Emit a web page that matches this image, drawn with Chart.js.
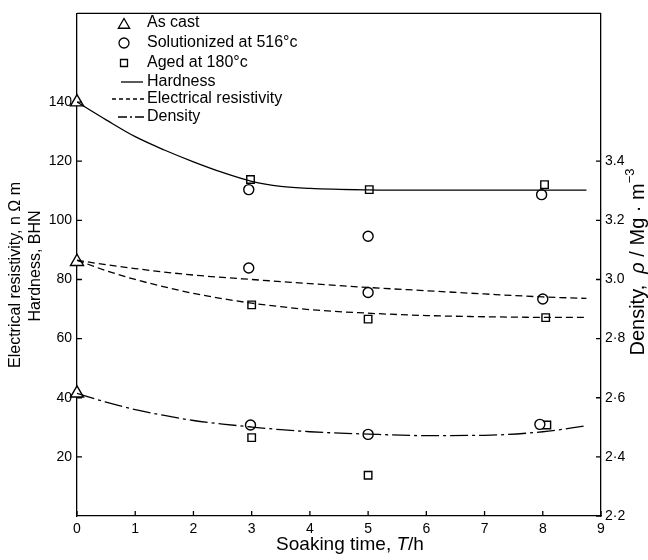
<!DOCTYPE html>
<html lang="en">
<head>
<meta charset="UTF-8">
<title>Soaking time chart</title>
<script src="https://cdn.jsdelivr.net/npm/chart.js"></script>
<style>
  body { margin: 0; background: #fff; }
</style>
</head>
<body>
<canvas id="chart" width="648" height="560"></canvas>
<script>
// values
const timeTicks = [0, 1, 2, 3, 4, 5, 6, 7, 8, 9];
const leftTicks = [20, 40, 60, 80, 100, 120, 140];
const densityTicks = [2.2, 2.4, 2.6, 2.8, 3.0, 3.2, 3.4];
const densityTickLabels = ['2·2', '2·4', '2·6', '2·8', '3.0', '3.2', '3.4'];

// fitted curves
const curveTime = [0, 0.5, 1, 1.5, 2, 2.5, 3, 3.5, 4, 5, 6, 7, 8, 8.75];
const hardnessCurve = [140, 134, 128.3, 123.8, 119.8, 116.2, 113.2, 111.5, 110.8, 110.3, 110.2, 110.2, 110.2, 110.2];
const resistivitySolCurve = [86.5, 85, 83.7, 82.5, 81.5, 80.7, 80, 79.3, 78.6, 77.3, 76.2, 75.1, 74.1, 73.6];
const resistivityAgedCurve = [86.5, 83, 80, 77.5, 75.3, 73.5, 72, 70.8, 69.8, 68.6, 67.8, 67.4, 67.2, 67.2];
const densityCurve = [2.615, 2.585, 2.56, 2.54, 2.523, 2.511, 2.501, 2.492, 2.485, 2.477, 2.472, 2.473, 2.485, 2.505];

// as cast (triangles)
const castTime = [0];
const castHardness = [140];
const castResistivity = [86];
const castDensity = [2.615];

// solutionized at 516 (circles)
const solHardnessTime = [2.95, 5, 7.98];
const solHardness = [110.4, 94.6, 108.7];
const solResistivityTime = [2.95, 5, 8];
const solResistivity = [83.9, 75.6, 73.4];
const solDensityTime = [2.98, 5, 7.95];
const solDensity = [2.508, 2.476, 2.51];

// aged at 180 (squares)
const agedHardnessTime = [2.98, 5.02, 8.03];
const agedHardness = [113.8, 110.4, 112.1];
const agedResistivityTime = [3, 5, 8.05];
const agedResistivity = [71.4, 66.6, 67.1];
const agedDensityTime = [3, 5, 8.07];
const agedDensity = [2.465, 2.338, 2.508];

const legendLabels = ['As cast', 'Solutionized at 516°c', 'Aged at 180°c', 'Hardness', 'Electrical resistivity', 'Density'];

const FONT = "'Liberation Sans', Arial, sans-serif";
const DASH = [7, 4];
const DASH_DOT = [18, 4, 3, 4];

function pts(xs, ys) {
    return xs.map((x, i) => ({ x: x, y: ys[i] }));
}

function curve(ys, axis, dash) {
    return {
        data: pts(curveTime, ys),
        yAxisID: axis,
        showLine: true,
        borderColor: '#000',
        borderWidth: 1.3,
        borderDash: dash,
        pointRadius: 0,
        cubicInterpolationMode: 'monotone',
        fill: false
    };
}

function markers(xs, ys, axis, style, r) {
    return {
        data: pts(xs, ys),
        yAxisID: axis,
        showLine: false,
        pointStyle: style,
        pointRadius: r,
        pointBorderColor: '#000',
        pointBackgroundColor: '#fff',
        pointBorderWidth: 1.4,
        clip: false
    };
}

function drawMarker(ctx, style, x, y, r) {
    ctx.beginPath();
    if (style === 'triangle') {
        ctx.moveTo(x, y - r);
        ctx.lineTo(x + r * 0.866, y + r / 2);
        ctx.lineTo(x - r * 0.866, y + r / 2);
        ctx.closePath();
    } else if (style === 'circle') {
        ctx.arc(x, y, r, 0, Math.PI * 2);
    } else {
        ctx.rect(x - r, y - r, 2 * r, 2 * r);
    }
    ctx.fillStyle = '#fff';
    ctx.fill();
    ctx.stroke();
}

// writes pieces of text one after the other, centred on cx
function drawPieces(ctx, pieces, cx, y) {
    let w = 0;
    pieces.forEach(p => { ctx.font = p.font; w += ctx.measureText(p.text).width; });
    let x = cx - w / 2;
    ctx.textAlign = 'left';
    pieces.forEach(p => {
        ctx.font = p.font;
        ctx.fillText(p.text, x, y + (p.dy || 0));
        x += ctx.measureText(p.text).width;
    });
}

// frame, inward ticks, axis titles and the legend
const overlay = {
    id: 'overlay',
    afterDraw(chart) {
        const { ctx, chartArea: a, scales } = chart;
        ctx.save();
        ctx.strokeStyle = '#000';
        ctx.lineWidth = 1.3;
        ctx.beginPath();
        ctx.moveTo(a.left, a.top);
        ctx.lineTo(a.right, a.top);
        scales.x.ticks.forEach(t => {
            const px = scales.x.getPixelForValue(t.value);
            ctx.moveTo(px, a.bottom);
            ctx.lineTo(px, a.bottom - 5);
        });
        scales.y.ticks.forEach(t => {
            const py = scales.y.getPixelForValue(t.value);
            ctx.moveTo(a.left, py);
            ctx.lineTo(a.left + 5, py);
        });
        scales.y2.ticks.forEach(t => {
            const py = scales.y2.getPixelForValue(t.value);
            ctx.moveTo(a.right, py);
            ctx.lineTo(a.right - 5, py);
        });
        ctx.stroke();

        ctx.fillStyle = '#000';
        ctx.textBaseline = 'middle';

        // x title
        drawPieces(ctx, [
            { text: 'Soaking time, ', font: '19px ' + FONT },
            { text: 'T', font: 'italic 19px ' + FONT },
            { text: '/h', font: '19px ' + FONT }
        ], 350, 545);

        // left titles
        ctx.save();
        ctx.translate(16, 275);
        ctx.rotate(-Math.PI / 2);
        ctx.textAlign = 'center';
        ctx.font = '16px ' + FONT;
        ctx.fillText('Electrical resistivity, n Ω m', 0, 0);
        ctx.restore();
        ctx.save();
        ctx.translate(36, 266);
        ctx.rotate(-Math.PI / 2);
        ctx.textAlign = 'center';
        ctx.font = '16px ' + FONT;
        ctx.fillText('Hardness, BHN', 0, 0);
        ctx.restore();

        // right title
        ctx.save();
        ctx.translate(638, 262);
        ctx.rotate(-Math.PI / 2);
        drawPieces(ctx, [
            { text: 'Density,  ', font: '20px ' + FONT },
            { text: 'ρ', font: 'italic 20px ' + FONT },
            { text: ' / Mg · m', font: '20px ' + FONT },
            { text: '−3', font: '13px ' + FONT, dy: -8 }
        ], 0, 0);
        ctx.restore();

        // legend
        ctx.lineWidth = 1.3;
        const rows = [23, 43, 63, 82, 99, 117];
        drawMarker(ctx, 'triangle', 124, 25, 6.5);
        drawMarker(ctx, 'circle', 124, 43, 5);
        drawMarker(ctx, 'rect', 124, 63, 3.5);
        ctx.beginPath();
        ctx.moveTo(121, 82); ctx.lineTo(143, 82);
        ctx.stroke();
        ctx.setLineDash([4, 3]);
        ctx.beginPath();
        ctx.moveTo(112, 99); ctx.lineTo(146, 99);
        ctx.stroke();
        ctx.setLineDash([9, 3, 2, 3]);
        ctx.beginPath();
        ctx.moveTo(118, 117); ctx.lineTo(144, 117);
        ctx.stroke();
        ctx.setLineDash([]);
        ctx.fillStyle = '#000';
        ctx.font = '16px ' + FONT;
        ctx.textAlign = 'left';
        legendLabels.forEach((s, i) => ctx.fillText(s, 147, rows[i]));
        ctx.restore();
    }
};

const tickFont = { family: FONT, size: 14 };

new Chart(document.getElementById('chart'), {
    type: 'scatter',
    data: {
        datasets: [
            curve(hardnessCurve, 'y', []),
            curve(resistivitySolCurve, 'y', DASH),
            curve(resistivityAgedCurve, 'y', DASH),
            curve(densityCurve, 'y2', DASH_DOT),
            markers(castTime, castHardness, 'y', 'triangle', 7.5),
            markers(castTime, castResistivity, 'y', 'triangle', 7.5),
            markers(castTime, castDensity, 'y2', 'triangle', 7.5),
            markers(solHardnessTime, solHardness, 'y', 'circle', 5),
            markers(solResistivityTime, solResistivity, 'y', 'circle', 5),
            markers(solDensityTime, solDensity, 'y2', 'circle', 5),
            markers(agedHardnessTime, agedHardness, 'y', 'rect', 5.3),
            markers(agedResistivityTime, agedResistivity, 'y', 'rect', 5.3),
            markers(agedDensityTime, agedDensity, 'y2', 'rect', 5.3)
        ]
    },
    options: {
        responsive: false,
        animation: false,
        layout: { padding: { top: 12, left: 0, right: 0, bottom: 0 } },
        plugins: { legend: { display: false }, tooltip: { enabled: false } },
        scales: {
            x: {
                type: 'linear',
                min: 0,
                max: 9,
                afterFit: s => { s.height = 44; },
                afterBuildTicks: s => { s.ticks = timeTicks.map(v => ({ value: v })); },
                grid: { display: false, drawTicks: false },
                border: { display: true, color: '#000', width: 1.3 },
                ticks: { color: '#000', font: tickFont, padding: 5, maxRotation: 0, autoSkip: false }
            },
            y: {
                position: 'left',
                min: 0,
                max: 170,
                afterFit: s => { s.width = 77; },
                afterBuildTicks: s => { s.ticks = leftTicks.map(v => ({ value: v })); },
                grid: { display: false, drawTicks: false },
                border: { display: true, color: '#000', width: 1.3 },
                ticks: { color: '#000', font: tickFont, padding: 5, autoSkip: false }
            },
            y2: {
                position: 'right',
                min: 2.2,
                max: 3.9,
                afterFit: s => { s.width = 47; },
                afterBuildTicks: s => { s.ticks = densityTicks.map(v => ({ value: v })); },
                grid: { display: false, drawTicks: false },
                border: { display: true, color: '#000', width: 1.3 },
                ticks: {
                    color: '#000',
                    font: tickFont,
                    padding: 4,
                    autoSkip: false,
                    callback: (v, i) => densityTickLabels[i]
                }
            }
        }
    },
    plugins: [overlay]
});
</script>
</body>
</html>
